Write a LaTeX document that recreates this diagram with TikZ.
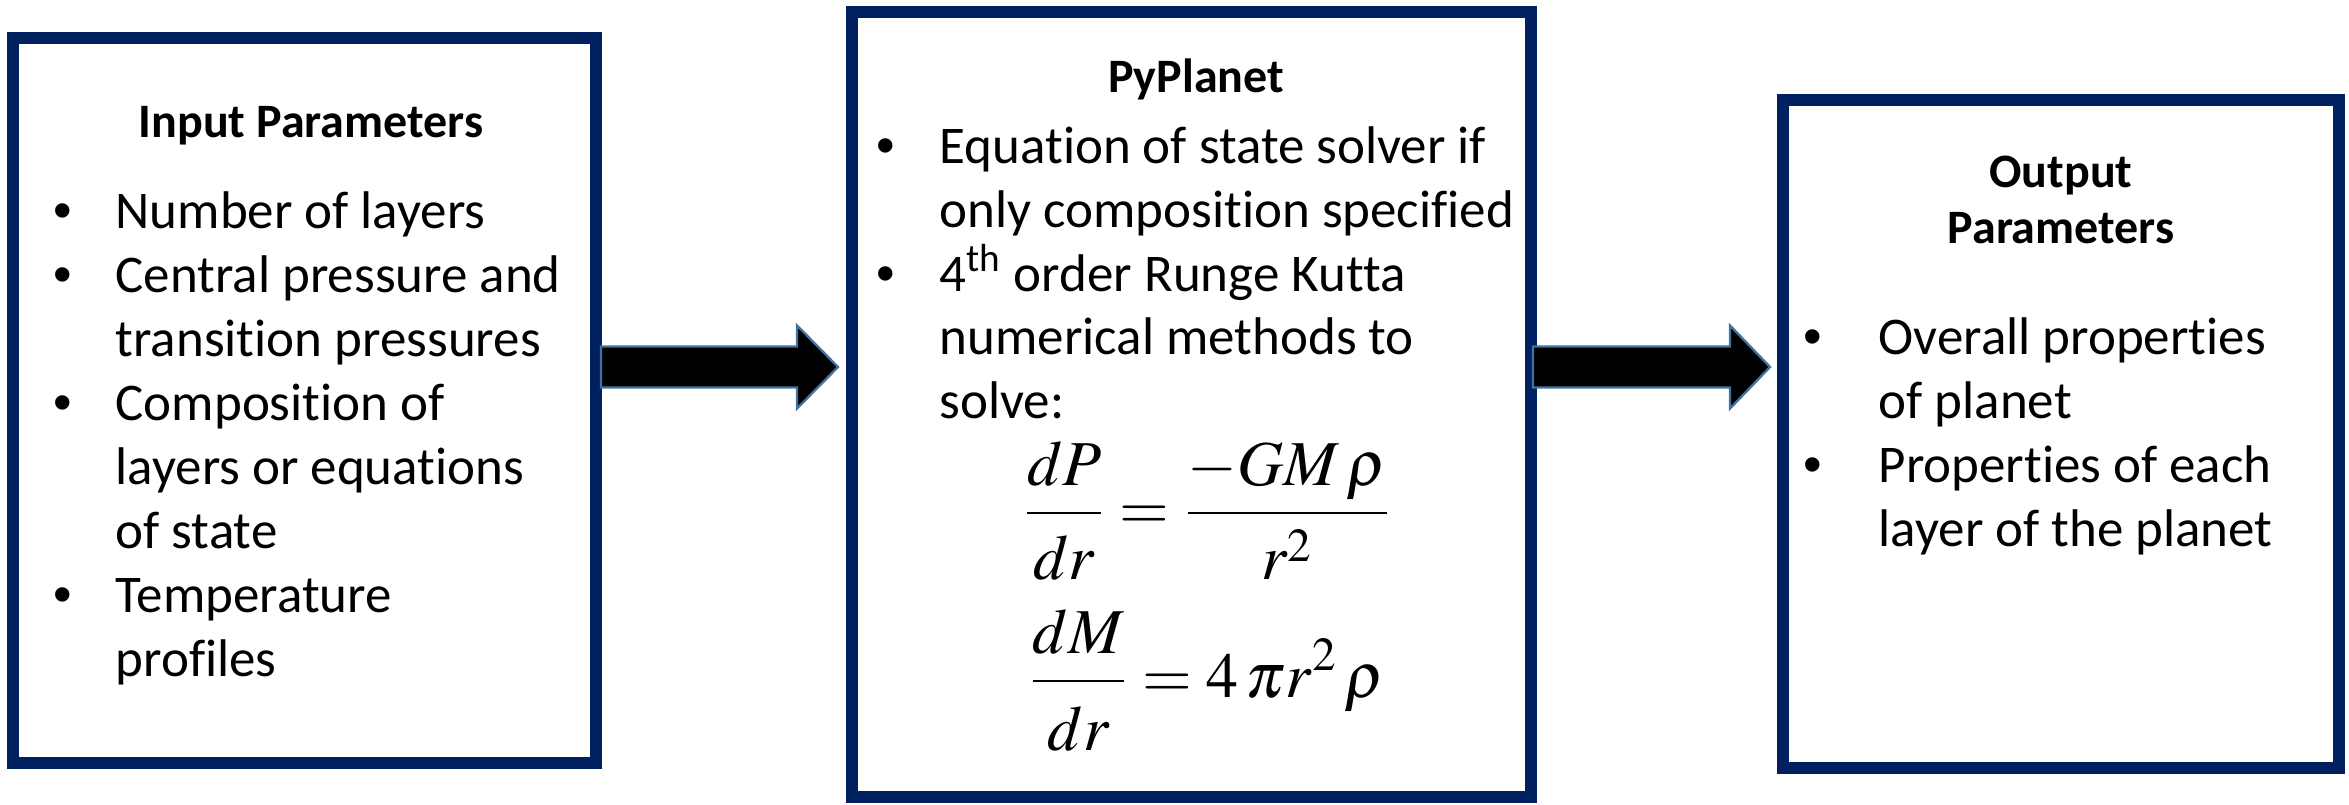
\documentclass[tikz,border=0pt]{standalone}
\usepackage{mathptmx}
\usepackage[no-math]{fontspec}
\setmainfont{Carlito}[Ligatures=NoCommon]
\newfontfamily\bulletfont{Liberation Sans}
\usetikzlibrary{calc}
\definecolor{navy}{RGB}{0,32,96}
\definecolor{arrowedge}{RGB}{65,113,156}
\tikzset{
  box/.style={draw=navy, line width=3.6pt, fill=white, rectangle, inner sep=0pt},
  ttl/.style={anchor=base, font=\fontsize{14.4}{16.8}\selectfont\bfseries, inner sep=0pt},
  itm/.style={anchor=base west, font=\fontsize{15.9}{19.2}\selectfont, inner sep=0pt},
  bul/.style={anchor=base, font=\bulletfont\fontsize{15.9}{19.2}\selectfont, inner sep=0pt},
  eqn/.style={anchor=base, font=\fontsize{19.2}{23}\selectfont, inner sep=0pt},
  fatarrow/.style={fill=black, draw=arrowedge, line width=0.7pt, line join=miter},
}
\begin{document}
\begin{tikzpicture}[x=0.3pt,y=-0.3pt]
\useasboundingbox (0,0) rectangle (2349,804);
% boxes
\node[box, minimum width=174.9pt, minimum height=217.5pt] (in) at (304.5,400.5) {};
\node[box, minimum width=203.7pt, minimum height=235.35pt] (mid) at (1191,404.25) {};
\node[box, minimum width=166.8pt, minimum height=200.4pt] (out) at (2061,434) {};
% arrows
\coordinate (a1s) at ($(in.east)+(-1,-33.5)$);
\coordinate (a1e) at ($(mid.west)+(-7.5,-37.25)$);
\coordinate (a2s) at ($(mid.east)+(-3.5,-37.25)$);
\coordinate (a2e) at ($(out.west)+(-7,-67)$);
\draw[fatarrow] let \p1=(a1s), \p2=(a1e) in
  (\x1,\y1+6.15pt) -- (\x2-12.3pt,\y1+6.15pt) -- (\x2-12.3pt,\y1+12.45pt) -- (\x2,\y2)
  -- (\x2-12.3pt,\y1-12.45pt) -- (\x2-12.3pt,\y1-6.15pt) -- (\x1,\y1-6.15pt) -- cycle;
\draw[fatarrow] let \p1=(a2s), \p2=(a2e) in
  (\x1,\y1+6.15pt) -- (\x2-12pt,\y1+6.15pt) -- (\x2-12pt,\y1+12.45pt) -- (\x2,\y2)
  -- (\x2-12pt,\y1-12.45pt) -- (\x2-12pt,\y1-6.15pt) -- (\x1,\y1-6.15pt) -- cycle;
% left box text
\node[ttl] (t1) at (311,138) {Input Parameters};
\node[bul] (b11) at (63,228) {•};
\node[itm] (l11) at (115,228) {Number of layers};
\node[bul] (b12) at (63,292) {•};
\node[itm] (l12) at (115,292) {Central pressure and};
\node[itm] (l13) at (115,356) {transition pressures};
\node[bul] (b13) at (63,420) {•};
\node[itm] (l14) at (115,420) {Composition of};
\node[itm] (l15) at (115,484) {layers or equations};
\node[itm] (l16) at (115,548) {of state};
\node[bul] (b14) at (63,612) {•};
\node[itm] (l17) at (115,612) {Temperature};
\node[itm] (l18) at (115,676) {profiles};
% middle box text
\node[ttl] (t2) at (1196,93) {PyPlanet};
\node[bul] (b21) at (886,164) {•};
\node[itm] (l21) at (939,164) {Equation of state solver if};
\node[itm] (l22) at (939,227.5) {only composition specified};
\node[bul] (b22) at (886,291) {•};
\node[itm] (l23) at (939,291) {4\textsuperscript{th} order Runge Kutta};
\node[itm] (l24) at (939,354.5) {numerical methods to};
\node[itm] (l25) at (939,418) {solve:};
\node[eqn] (e1) at (1207,529) {$\displaystyle \frac{dP}{\rule{0pt}{0.9em}dr}=\frac{-GM\,\rho}{\rule{0pt}{0.9em}r^{2}}$};
\node[eqn] (e2) at (1207,697) {$\displaystyle \frac{dM}{\rule{0pt}{0.95em}dr}=4\,\pi r^{2}\,\rho$};
% right box text
\node[ttl] (t3) at (2061,187) {Output};
\node[ttl] (t4) at (2061,243) {Parameters};
\node[bul] (b31) at (1813,354) {•};
\node[itm] (l31) at (1878,354) {Overall properties};
\node[itm] (l32) at (1878,418) {of planet};
\node[bul] (b32) at (1813,482) {•};
\node[itm] (l33) at (1878,482) {Properties of each};
\node[itm] (l34) at (1878,546) {layer of the planet};
\end{tikzpicture}
\end{document}
